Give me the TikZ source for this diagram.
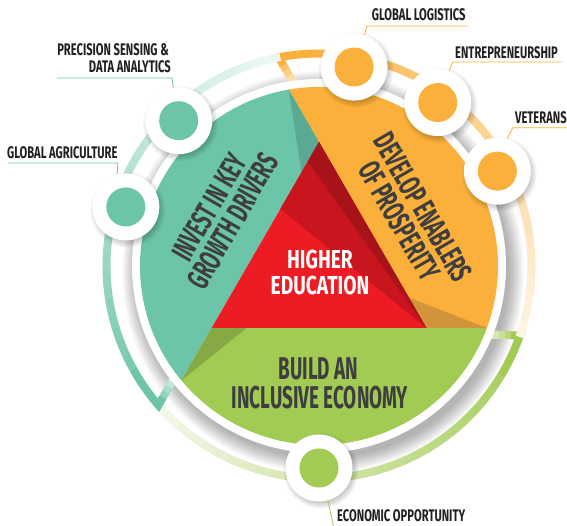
\documentclass[tikz,border=0pt]{standalone}
\usepackage{fontspec}
\newfontfamily\bebas{Fira Sans}[FakeStretch=0.6]
\newfontfamily\bebaslab{Fira Sans}[FakeStretch=0.665]
\newfontfamily\bebaswide{Fira Sans}[FakeStretch=0.74]
\usetikzlibrary{calc}
\definecolor{tealc}{HTML}{6CC5A8}
\definecolor{tealdark}{HTML}{5AA993}
\definecolor{orangec}{HTML}{FBB03B}
\definecolor{orangedark}{HTML}{D2933A}
\definecolor{greenc}{HTML}{A1CB53}
\definecolor{greendark}{HTML}{86A946}
\definecolor{redc}{HTML}{ED1C24}
\definecolor{redmid}{HTML}{C9161E}
\definecolor{reddark}{HTML}{A8131A}
\definecolor{textc}{HTML}{3E3E40}
\definecolor{labc}{HTML}{231F20}
\newcommand{\drawband}[2]{%
 \begin{scope}[shift={(C)}, rotate=#1]
  \foreach \i/\p in {0/30,1/45,2/60,3/75} {
    \draw[#2!\p!white, line width=8pt] (168+6*\i,-69.5) -- (174.5+6*\i,-69.5);
  }
  \draw[#2, line width=8pt, line join=miter] (192,-69.5) -- (200.8,-69.5) arc[start angle=-19.09, delta angle=-12, radius=212.5];
  \foreach \j in {0,...,26} {
    \pgfmathsetmacro\a{-31.09-4*\j}
    \pgfmathsetmacro\p{max(10,100-88*(4*\j+14)/120)}
    \draw[#2!\p!white, line width=8pt] (\a:212.5) arc[start angle=\a, delta angle=-4.4, radius=212.5];
  }
 \end{scope}}
\newcommand{\softshadow}[2]{%
  \foreach \k in {0,...,9} \fill[black,opacity=0.025] ($(#1)+(2,-3)$) circle ({#2-3+0.8*\k});}
\tikzset{
  lab/.style={inner sep=0pt, text=labc, font=\bebaslab\bfseries\fontsize{16.8}{17}\selectfont},
  maintxt/.style={inner sep=0pt, anchor=base},
  rottxt/.style={inner sep=0pt, align=center, text=textc, font=\bebas\bfseries\fontsize{31}{27.5}\selectfont},
  bubble/.style={circle, fill=white, minimum size=67pt, inner sep=0pt},
  leader/.style={line width=0.8pt}
}
\begin{document}
\begin{tikzpicture}[x=1pt,y=1pt]
\useasboundingbox (0,0) rectangle (567,526);
\fill[white] (0,0) rectangle (567,526);
\coordinate (C) at (319,260);
% main disk shadow
\foreach \k in {0,...,15} \fill[black,opacity=0.02] ($(C)+(4,-6)$) circle ({186+\k});
% outer bands
\drawband{0}{greenc}
\drawband{120}{orangec}
\drawband{-120}{tealc}
% white ring
\fill[white] (C) circle (187);
% geometry
\coordinate (V0) at ($(C)+(90:124)$);
\coordinate (V1) at ($(C)+(210:124)$);
\coordinate (V2) at ($(C)+(330:124)$);
\coordinate (E0) at ($(C)+(99.74:179)$);
\coordinate (E1) at ($(C)+(219.74:179)$);
\coordinate (E2) at ($(C)+(-20.26:179)$);
\coordinate (P0) at ($(V0)!0.163!(V1)$);
\coordinate (P1) at ($(V1)!0.163!(V2)$);
\coordinate (P2) at ($(V2)!0.163!(V0)$);
\coordinate (Q1) at ($(V0)!0.105!(V1)$);
\coordinate (Q2) at ($(V0)!0.36!(V1)$);
% regions
\fill[tealc] (E0) -- (V0) -- (V1) -- (E1) arc[start angle=219.74, end angle=99.74, radius=179] -- cycle;
\fill[orangec] (E2) -- (V2) -- (V0) -- (E0) arc[start angle=99.74, end angle=-20.26, radius=179] -- cycle;
\fill[greenc] (E1) -- (V1) -- (V2) -- (E2) arc[start angle=-20.26, end angle=-140.26, radius=179] -- cycle;
\fill[tealdark] (V0) -- (E0) -- (P0) -- cycle;
\fill[greendark] (V1) -- (E1) -- (P1) -- cycle;
\fill[orangedark] (V2) -- (E2) -- (P2) -- cycle;
\fill[redc] (V0) -- (V1) -- (V2) -- cycle;
\fill[redmid] (V0) -- (Q2) -- (V2) -- cycle;
\fill[reddark] (V0) -- (Q1) -- (V2) -- cycle;
% bubbles
\coordinate (cga) at ($(C)+(163:202)$);
\coordinate (cps) at ($(C)+(134:202)$);
\coordinate (cgl) at ($(C)+(80:202)$);
\coordinate (cen) at ($(C)+(54:202)$);
\coordinate (cve) at ($(C)+(28:202)$);
\coordinate (ceo) at ($(C)+(-90:202)$);
\softshadow{cga}{33.5}
\softshadow{cps}{33.5}
\softshadow{cgl}{33.5}
\softshadow{cen}{33.5}
\softshadow{cve}{33.5}
\softshadow{ceo}{33.5}
\node[bubble] (ga) at (cga) {};
\node[bubble] (ps) at (cps) {};
\node[bubble] (gl) at (cgl) {};
\node[bubble] (en) at (cen) {};
\node[bubble] (ve) at (cve) {};
\node[bubble] (eo) at (ceo) {};
\fill[tealc] (ga) circle (19.5);
\fill[tealc] (ps) circle (19.5);
\fill[orangec] (gl) circle (19.5);
\fill[orangec] (en) circle (19.5);
\fill[orangec] (ve) circle (19.5);
\fill[greenc] (eo) circle (19.5);
% labels
\node[lab, anchor=base east] (psl1) at (169,470) {PRECISION SENSING \&};
\node[lab, anchor=base east] (psl2) at (171,453) {DATA ANALYTICS};
\node[lab, anchor=base west] (gal) at (7,367.7) {GLOBAL AGRICULTURE};
\node[lab, anchor=base west] (gll) at (371.7,505.3) {GLOBAL LOGISTICS};
\node[lab, anchor=base west] (enl) at (455,467.7) {ENTREPRENEURSHIP};
\node[lab, anchor=base west] (vel) at (515,402) {VETERANS};
\node[lab, anchor=base west] (eol) at (337,4) {ECONOMIC OPPORTUNITY};
% leaders
\coordinate (psu1) at (57,448); \coordinate (psu2) at (172,448);
\coordinate (gau1) at (8,363); \coordinate (gau2) at (118,363);
\coordinate (glu1) at (468,500); \coordinate (glu2) at (366.7,500);
\coordinate (enu1) at (561.7,464); \coordinate (enu2) at (452.7,464);
\coordinate (veu1) at (570,398.3); \coordinate (veu2) at (512.7,398.3);
\coordinate (eoend) at (334.5,-4);
\draw[leader, tealc] (psu1) -- (psu2) -- (ps.99);
\draw[leader, tealc] (gau1) -- (gau2) -- (ga.105);
\draw[leader, orangec] (glu1) -- (glu2) -- (gl.72);
\draw[leader, orangec] (enu1) -- (enu2) -- (en.70);
\draw[leader, orangec] (veu1) -- (veu2) -- (ve.73);
\draw[leader, greenc] (eo.-75) -- (eoend);
% main texts
\node[maintxt, text=white, font=\bebaswide\bfseries\fontsize{26}{26}\selectfont] (he1) at (320,257.7) {HIGHER};
\node[maintxt, text=white, font=\bebaswide\bfseries\fontsize{26}{26}\selectfont] (he2) at (320,231) {EDUCATION};
\node[maintxt, text=textc, font=\bebas\bfseries\fontsize{31.5}{31.5}\selectfont] (bu1) at (318.5,146) {BUILD AN};
\node[maintxt, text=textc, font=\bebas\bfseries\fontsize{31.5}{31.5}\selectfont] (bu2) at (320,117.7) {INCLUSIVE ECONOMY};
\node[rottxt, rotate=60] (invest) at (221,312) {INVEST IN KEY\\GROWTH DRIVERS};
\node[rottxt, rotate=-60] (develop) at (411,312) {DEVELOP ENABLERS\\OF PROSPERITY};
\end{tikzpicture}
\end{document}
